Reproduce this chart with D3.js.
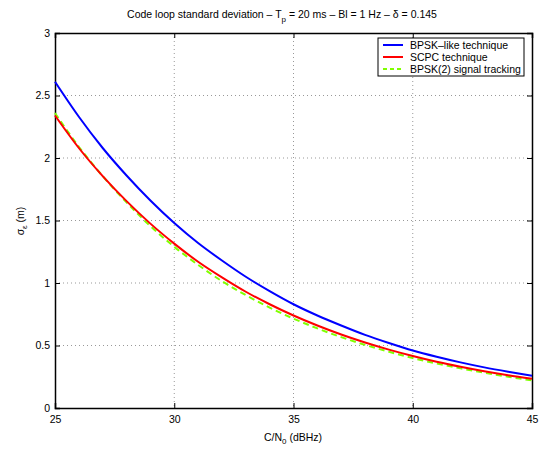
<!DOCTYPE html>
<html><head><meta charset="utf-8">
<script src="https://cdn.jsdelivr.net/npm/d3@7"></script>
<style>body{margin:0;background:#fff}text{font-family:"Liberation Sans",Arial,sans-serif}</style>
</head><body>
<svg id="c" width="549" height="450"></svg>
<script>
const cn0 = [25,26,27,28,29,30,31,32,33,34,35,36,37,38,39,40,41,42,43,44,45];
const bpskLike = [2.61,2.33,2.08,1.86,1.66,1.48,1.32,1.18,1.05,0.935,0.83,0.74,0.66,0.585,0.52,0.46,0.41,0.365,0.325,0.29,0.258];
const scpc = [2.34,2.08,1.855,1.655,1.475,1.315,1.17,1.045,0.93,0.83,0.74,0.66,0.588,0.524,0.467,0.416,0.37,0.33,0.294,0.262,0.234];
const bpsk2 = [2.36,2.09,1.855,1.645,1.455,1.29,1.145,1.015,0.903,0.803,0.715,0.637,0.567,0.505,0.45,0.399,0.356,0.317,0.282,0.25,0.221];
const xTicks = [25,30,35,40,45];
const yTicks = [0,0.5,1,1.5,2,2.5,3];
const seriesNames = ["BPSK\u2013like technique","SCPC technique","BPSK(2) signal tracking"];

const svg = d3.select("#c");
const L=55,R=532,T=33,B=408;
const x = d3.scaleLinear().domain([25,45]).range([L,R]);
const y = d3.scaleLinear().domain([0,3]).range([B,T]);

// grid
const g = svg.append("g");
g.selectAll(".gx").data(xTicks.slice(1,-1)).enter().append("line")
 .attr("x1",d=>x(d)).attr("x2",d=>x(d)).attr("y1",T).attr("y2",B)
 .attr("stroke","#999").attr("stroke-width",1).attr("stroke-dasharray","1,3");
g.selectAll(".gy").data(yTicks.slice(1,-1)).enter().append("line")
 .attr("y1",d=>y(d)).attr("y2",d=>y(d)).attr("x1",L).attr("x2",R)
 .attr("stroke","#999").attr("stroke-width",1).attr("stroke-dasharray","1,3");

// axes
const fmt = d=>String(d);
const xa = svg.append("g").attr("transform",`translate(0,${B})`)
 .call(d3.axisBottom(x).tickValues(xTicks).tickSize(-5).tickPadding(8).tickFormat(fmt));
const xt = svg.append("g").attr("transform",`translate(0,${T})`)
 .call(d3.axisTop(x).tickValues(xTicks).tickSize(-5).tickFormat(""));
const ya = svg.append("g").attr("transform",`translate(${L},0)`)
 .call(d3.axisLeft(y).tickValues(yTicks).tickSize(-5).tickPadding(5).tickFormat(fmt));
const yr = svg.append("g").attr("transform",`translate(${R},0)`)
 .call(d3.axisRight(y).tickValues(yTicks).tickSize(-5).tickFormat(""));
[xa,xt,ya,yr].forEach(a=>{
  a.select(".domain").attr("stroke","#000").attr("stroke-width",1.5);
  a.selectAll(".tick line").attr("stroke","#000");
  a.selectAll("text").attr("font-size",10.5).attr("fill","#000").attr("font-family","Liberation Sans, Arial, sans-serif");
});

// curves
const line = d3.line().x((d,i)=>x(cn0[i])).y(d=>y(d)).curve(d3.curveMonotoneX);
svg.append("path").datum(bpskLike).attr("d",line).attr("fill","none").attr("stroke","#0000ff").attr("stroke-width",2);
svg.append("path").datum(bpsk2).attr("d",line).attr("fill","none").attr("stroke","#80ff00").attr("stroke-width",2).attr("stroke-dasharray","6,4");
svg.append("path").datum(scpc).attr("d",line).attr("fill","none").attr("stroke","#ff0000").attr("stroke-width",2);

// legend
const lg = svg.append("g");
lg.append("rect").attr("x",378).attr("y",38).attr("width",146).attr("height",38)
 .attr("fill","#fff").attr("stroke","#000").attr("stroke-width",1);
const cols=["#0000ff","#ff0000","#80ff00"], dashes=[null,null,"4,3"], rowsY=[45,57,69];
seriesNames.forEach((n,i)=>{
  lg.append("line").attr("x1",383).attr("x2",403).attr("y1",rowsY[i]).attr("y2",rowsY[i])
    .attr("stroke",cols[i]).attr("stroke-width",2).attr("stroke-dasharray",dashes[i]);
  lg.append("text").attr("x",410).attr("y",rowsY[i]+4).attr("font-size",10.5).text(n);
});

// title
const t = svg.append("text").attr("x",282).attr("y",18).attr("text-anchor","middle").attr("font-size",10.5);
t.append("tspan").text("Code loop standard deviation \u2013 T");
t.append("tspan").attr("dy",4).attr("font-size",8).text("p");
t.append("tspan").attr("dy",-4).text(" = 20 ms \u2013 Bl = 1 Hz \u2013 \u03b4 = 0.145");

// x label
const xl = svg.append("text").attr("x",293).attr("y",441).attr("text-anchor","middle").attr("font-size",10.5);
xl.append("tspan").text("C/N");
xl.append("tspan").attr("dy",3).attr("font-size",8).text("0");
xl.append("tspan").attr("dy",-3).text(" (dBHz)");

// y label
const yl = svg.append("text").attr("transform","translate(24,221) rotate(-90)").attr("text-anchor","middle").attr("font-size",10.5);
yl.append("tspan").text("\u03c3");
yl.append("tspan").attr("dy",3).attr("font-size",8).text("\u03b5");
yl.append("tspan").attr("dy",-3).text(" (m)");
</script>
</body></html>
